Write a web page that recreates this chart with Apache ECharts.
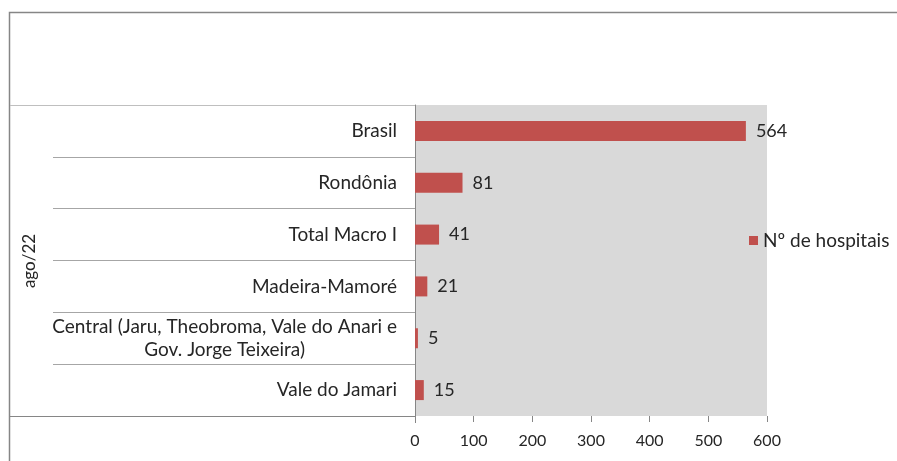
<!DOCTYPE html>
<html><head><meta charset="utf-8">
<script src="https://cdn.jsdelivr.net/npm/echarts@6/dist/echarts.min.js"></script>
<style>html,body{margin:0;padding:0;background:#fff}#c{width:897px;height:461px}</style>
</head><body><div id="c"></div>
<script>
const categories = ['Brasil','Rondônia','Total Macro I','Madeira-Mamoré','Central (Jaru, Theobroma, Vale do Anari e\nGov. Jorge Teixeira)','Vale do Jamari'];
const values = [564, 81, 41, 21, 5, 15];
const seriesName = 'Nº de hospitais';
const groupLabel = 'ago/22';
const xTicks = [0, 100, 200, 300, 400, 500, 600];

const FONT = 'Lato';
const TXT = '#262626';
const chart = echarts.init(document.getElementById('c'));
chart.setOption({
  animation: false,
  textStyle: {fontFamily: FONT},
  grid: {left: 415, right: 130, top: 105, bottom: 45, show: true, backgroundColor: '#D9D9D9', borderWidth: 0},
  legend: {
    data: [seriesName], left: 749, top: 231, padding: 0, icon: 'rect', itemWidth: 9, itemHeight: 9, itemGap: 4,
    textStyle: {fontFamily: FONT, fontSize: 19, color: TXT, padding: [0,0,0,0]}
  },
  xAxis: {
    type: 'value', min: xTicks[0], max: xTicks[xTicks.length-1], interval: 100,
    splitLine: {show: false},
    axisLine: {show: false},
    axisTick: {show: true, length: 6, lineStyle: {color: '#868686'}},
    axisLabel: {fontFamily: FONT, fontSize: 16, color: TXT, margin: 17}
  },
  yAxis: {
    type: 'category', data: categories, inverse: true,
    axisLine: {show: true, lineStyle: {color: '#868686'}},
    axisTick: {show: true, length: 362, lineStyle: {color: '#A6A6A6'}},
    axisLabel: {
      margin: 18, fontFamily: FONT, fontSize: 19, color: TXT, align: 'right',
      formatter: function (v) {
        return v.split('\n').map(function (l) { return '{c|' + l + '}'; }).join('\n');
      },
      rich: {c: {align: 'center', fontFamily: FONT, fontSize: 19, color: TXT, lineHeight: 23}}
    }
  },
  series: [{
    name: seriesName, type: 'bar', data: values, barWidth: 20,
    itemStyle: {color: '#C0504D'},
    label: {show: true, position: 'right', distance: 10, fontFamily: FONT, fontSize: 18, color: TXT}
  }],
  graphic: [
    {type: 'rect', shape: {x: 9.5, y: 12.5, width: 1000, height: 1000}, style: {fill: 'none', stroke: '#868686', lineWidth: 1.5}, silent: true},
    {type: 'line', shape: {x1: 10, y1: 105.5, x2: 415, y2: 105.5}, style: {stroke: '#BFBFBF', lineWidth: 1}, z: 10},
    {type: 'line', shape: {x1: 10, y1: 416.5, x2: 415, y2: 416.5}, style: {stroke: '#868686', lineWidth: 1}, z: 10},
    {type: 'line', shape: {x1: 415.5, y1: 416, x2: 415.5, y2: 423}, style: {stroke: '#868686', lineWidth: 1}, z: 10},
    {type: 'text', x: 30, y: 261, rotation: Math.PI / 2, style: {text: groupLabel, fontFamily: FONT, fontSize: 17, fill: TXT, align: 'center', verticalAlign: 'middle'}}
  ]
});
</script></body></html>
